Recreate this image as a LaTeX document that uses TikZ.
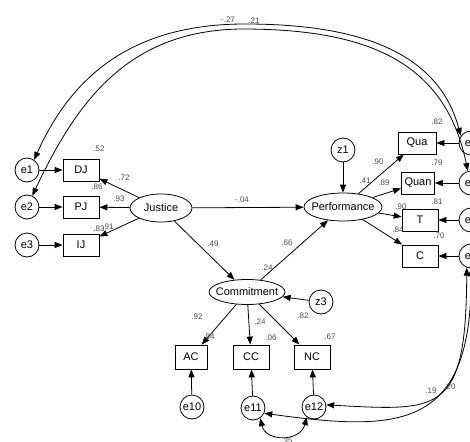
\documentclass[tikz,border=0pt]{standalone}
\usepackage{fontspec}
\setmainfont{Liberation Sans}
\usetikzlibrary{arrows.meta,shapes.geometric}

\begin{document}
\begin{tikzpicture}[x=1pt,y=-1pt,line width=0.8pt,
    >={Triangle[length=8pt,width=6pt]},
    latent/.style={ellipse,draw,inner xsep=-5pt,inner ysep=0pt,font=\fontsize{11}{13}\selectfont},
    obs/.style={rectangle,draw,minimum width=36pt,minimum height=22pt,inner sep=2pt,font=\fontsize{11}{13}\selectfont},
    err/.style={circle,draw,minimum size=24pt,inner sep=0pt,font=\fontsize{11}{13}\selectfont},
    est/.style={inner sep=0pt,text=black!70,font=\fontsize{8}{9}\selectfont}]
\useasboundingbox (0,0) rectangle (470,441);
\clip (0,0) rectangle (470,441);

% latent variables
\node (Justice) at (161,208) [latent,minimum width=62pt,minimum height=28pt] {Justice};
\node (Perf) at (343,207) [latent,minimum width=78pt,minimum height=28pt] {Performance};
\node (Commit) at (247,292) [latent,minimum width=76pt,minimum height=25pt] {Commitment};

% indicators
\node (DJ) at (81,170) [obs] {DJ};
\node (PJ) at (81,207) [obs] {PJ};
\node (IJ) at (81,245) [obs] {IJ};
\node (Qua) at (417,143) [obs,minimum width=38pt] {Qua};
\node (Quan) at (418,183) [obs,minimum width=33pt] {Quan};
\node (T) at (420,220) [obs] {T};
\node (C) at (420,256) [obs] {C};
\node (AC) at (191,357) [obs,minimum width=32pt,minimum height=24pt] {AC};
\node (CC) at (251,357) [obs,minimum height=24pt] {CC};
\node (NC) at (312,357) [obs,minimum height=24pt] {NC};

% errors and disturbances
\node (e1) at (27,170) [err] {e1};
\node (e2) at (27,207) [err] {e2};
\node (e3) at (27,245) [err] {e3};
\node (e4) at (471,143) [err] {e4};
\node (e5) at (471,183) [err] {e5};
\node (e6) at (471,220) [err] {e6};
\node (e7) at (471,256) [err] {e7};
\node (e10) at (192,407) [err] {e10};
\node (e11) at (253,408) [err] {e11};
\node (e12) at (314,407) [err] {e12};
\node (z1) at (343,150) [err] {z1};
\node (z3) at (321,302) [err] {z3};

% structural paths
\draw[->] (Justice) -- (Perf);
\draw[->] (Justice) -- (Commit);
\draw[->] (Commit) -- (Perf);
\draw[->] (z1) -- (Perf);
\draw[->] (z3) -- (Commit);

% loadings
\draw[->] (Justice) -- (DJ);
\draw[->] (Justice) -- (PJ);
\draw[->] (Justice) -- (IJ);
\draw[->] (Perf) -- (Qua);
\draw[->] (Perf) -- (Quan);
\draw[->] (Perf) -- (T);
\draw[->] (Perf) -- (C);
\draw[->] (Commit) -- (AC);
\draw[->] (Commit) -- (CC);
\draw[->] (Commit) -- (NC);

\draw[->] (e1) -- (DJ);
\draw[->] (e2) -- (PJ);
\draw[->] (e3) -- (IJ);
\draw[->] (e4) -- (Qua);
\draw[->] (e5) -- (Quan);
\draw[->] (e6) -- (T);
\draw[->] (e7) -- (C);
\draw[->] (e10) -- (AC);
\draw[->] (e11) -- (CC);
\draw[->] (e12) -- (NC);

% covariances
\draw[<->] (e1.55) .. controls (70,80) and (128,24) .. (245,24)
    .. controls (365,24) and (439,55) .. (e4.145);
\draw[<->] (e2.65) .. controls (75,106) and (125,30) .. (242,29)
    .. controls (365,29) and (445,60) .. (e5.105);
\draw[<->] (e7.-110) .. controls (466,415) and (440,411) .. (e12.10);
\draw[<->] (e7.-90) .. controls (472,430) and (400,432) .. (e11.-25);
\draw[<->] (e6.-80) .. controls (480,236) and (480,240) .. (e7.80);
\draw[<->] (e11.-55) .. controls (266,442) and (300,442) .. (e12.-125);

% estimates
\node (c1) at (228,20) [est] {-.27};
\node (c2) at (254,21) [est] {.21};
\node (c3) at (431,391) [est] {.19};
\node (c4) at (450,387) [est] {.20};
\node (c5) at (287,441) [est] {.35};
\node (bJP) at (242,200) [est] {-.04};
\node (bJC) at (213,244) [est] {.49};
\node (bCP) at (287,243) [est] {.66};
\node (rC) at (267,268) [est] {.24};
\node (rP) at (365,181) [est] {.41};
\node (lDJ) at (124,178) [est] {.72};
\node (lPJ) at (119,199) [est] {.93};
\node (lIJ) at (108,227) [est] {.91};
\node (rDJ) at (99,149) [est] {.52};
\node (rPJ) at (97,187) [est] {.86};
\node (rIJ) at (99,229) [est] {.83};
\node (lQua) at (378,162) [est] {.90};
\node (lQuan) at (384,183) [est] {.89};
\node (lT) at (401,207) [est] {.90};
\node (lC) at (398,230) [est] {.84};
\node (rQua) at (437,122) [est] {.82};
\node (rQuan) at (437,163) [est] {.79};
\node (rT) at (437,202) [est] {.81};
\node (rCp) at (439,236) [est] {.70};
\node (lAC) at (197,317) [est] {.92};
\node (lCC) at (260,322) [est] {.24};
\node (lNC) at (303,316) [est] {.82};
\node (rAC) at (209,337) [est] {.84};
\node (rCC) at (271,338) [est] {.06};
\node (rNC) at (330,337) [est] {.67};
\end{tikzpicture}
\end{document}
